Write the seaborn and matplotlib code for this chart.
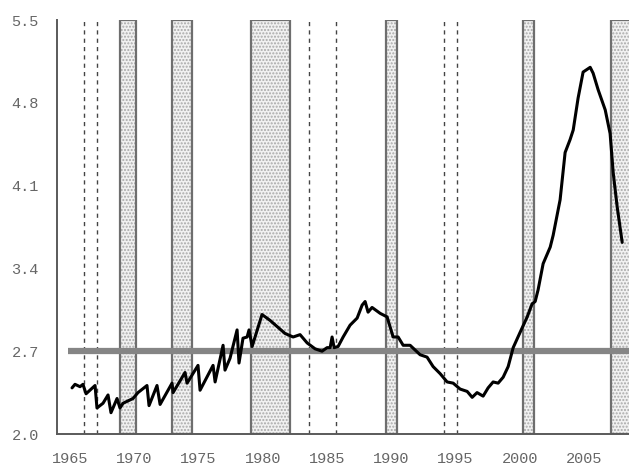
import numpy as np
import pandas as pd
import matplotlib
matplotlib.use("Agg")
import matplotlib.pyplot as plt
import matplotlib.transforms as mtrans
import seaborn as sns

# --- dados ---
years = [1966.17, 1966.40, 1966.79, 1967.02, 1967.26, 1967.96, 1968.11, 1968.58,
         1968.97, 1969.20, 1969.67, 1969.90, 1970.14, 1970.91, 1971.30, 1972.00,
         1972.16, 1972.78, 1973.02, 1973.95, 1974.03, 1974.96, 1975.12, 1975.97,
         1976.13, 1977.14, 1977.30, 1977.92, 1978.07, 1978.46, 1979.01, 1979.16,
         1979.47, 1979.79, 1979.94, 1980.18, 1980.95, 1981.58, 1982.74, 1983.37,
         1983.91, 1984.46, 1985.08, 1985.62, 1986.01, 1986.25, 1986.40, 1986.56,
         1986.87, 1987.26, 1987.80, 1988.35, 1988.74, 1988.97, 1989.20, 1989.51,
         1990.14, 1990.68, 1991.15, 1991.54, 1991.93, 1992.47, 1992.86, 1993.25,
         1993.79, 1994.26, 1994.81, 1995.35, 1995.82, 1996.36, 1996.91, 1997.30,
         1997.68, 1998.15, 1998.54, 1998.93, 1999.32, 1999.71, 2000.10, 2000.49,
         2001.03, 2001.58, 2001.96, 2002.20, 2002.43, 2002.82, 2003.37, 2003.60,
         2004.14, 2004.53, 2004.92, 2005.16, 2005.54, 2005.93, 2006.48, 2006.71,
         2007.10, 2007.65, 2008.03, 2008.27, 2008.58, 2008.97]
values = [2.39, 2.42, 2.40, 2.42, 2.34, 2.41, 2.22, 2.26,
          2.33, 2.18, 2.30, 2.22, 2.26, 2.30, 2.35, 2.41,
          2.24, 2.41, 2.25, 2.43, 2.35, 2.52, 2.43, 2.58,
          2.37, 2.58, 2.44, 2.75, 2.54, 2.64, 2.88, 2.60,
          2.81, 2.82, 2.88, 2.74, 3.01, 2.96, 2.85, 2.82,
          2.84, 2.77, 2.72, 2.70, 2.73, 2.73, 2.82, 2.73,
          2.74, 2.82, 2.92, 2.98, 3.09, 3.12, 3.03, 3.07,
          3.02, 2.99, 2.82, 2.82, 2.75, 2.75, 2.71, 2.67,
          2.65, 2.57, 2.51, 2.44, 2.43, 2.38, 2.36, 2.31,
          2.35, 2.32, 2.39, 2.44, 2.43, 2.48, 2.57, 2.73,
          2.86, 2.99, 3.10, 3.12, 3.22, 3.44, 3.58, 3.68,
          3.98, 4.38, 4.49, 4.57, 4.84, 5.06, 5.10, 5.05,
          4.91, 4.74, 4.54, 4.21, 3.92, 3.62]

# recessoes (faixas pontilhadas)
rec_start = [1969.90, 1973.95, 1980.10, 1990.60, 2001.26, 2008.11]
rec_end = [1971.15, 1975.51, 1983.13, 1991.46, 2002.12, 2010.00]

# linhas tracejadas
dash_years = [1967.10, 1968.11, 1984.61, 1986.71, 1995.12, 1996.13]

ref_level = 2.7
ref_start = 1965.86

xticks = [1965, 1970, 1975, 1980, 1985, 1990, 1995, 2000, 2005]
yticks = [2.0, 2.7, 3.4, 4.1, 4.8, 5.5]

# --- grafico ---
sns.set_style("white")
plt.rcParams['font.family'] = ['Liberation Mono', 'DejaVu Sans Mono']

fig = plt.figure(figsize=(6.29, 4.65), dpi=100)
ax = fig.add_axes([57 / 629, 31 / 465, 572 / 629, 414 / 465])

axis_gray = '#5a5a5a'
text_gray = '#666666'

for s, e in zip(rec_start, rec_end):
    ax.axvspan(s, e, facecolor='#f1f1f1', edgecolor='#a8a8a8', hatch='.....',
               lw=0, zorder=1)
    ax.axvspan(s, e, fill=False, edgecolor='#6e6e6e', lw=1.6, zorder=2)

for d in dash_years:
    ax.axvline(d, color='#444444', lw=1.0, ls=(0, (3, 3)), zorder=2)

ax.hlines(ref_level, ref_start, 2010, color='#858585', lw=4.5, zorder=3)

df = pd.DataFrame({'year': years, 'value': values})
sns.lineplot(data=df, x='year', y='value', ax=ax, color='black', lw=2.2,
             zorder=4)

ax.set_xlim(1965, 2009.5)
ax.set_ylim(2.0, 5.5)
ax.set_xlabel('')
ax.set_ylabel('')

ax.set_xticks(xticks)
ax.set_xticklabels([str(t) for t in xticks])
ax.set_yticks(yticks)
ax.set_yticklabels([f'{t:.1f}' for t in yticks])

sns.despine(ax=ax, top=True, right=True)
for side in ['left', 'bottom']:
    ax.spines[side].set_color(axis_gray)
    ax.spines[side].set_linewidth(1.4)

ax.tick_params(axis='x', direction='inout', length=20, width=1.4,
               color=axis_gray, labelcolor=text_gray, labelsize=11, pad=3)
ax.tick_params(axis='y', direction='inout', length=22, width=1.4,
               color=axis_gray, labelcolor=text_gray, labelsize=11, pad=2)

# rotulos do eixo x deslocados um pouco para a direita
shift = mtrans.ScaledTranslation(0.13, 0, fig.dpi_scale_trans)
for lab in ax.get_xticklabels():
    lab.set_transform(lab.get_transform() + shift)

for t in ax.get_xticklines() + ax.get_yticklines():
    t.set_clip_on(False)

fig.savefig('out.png', dpi=100, facecolor='white')
